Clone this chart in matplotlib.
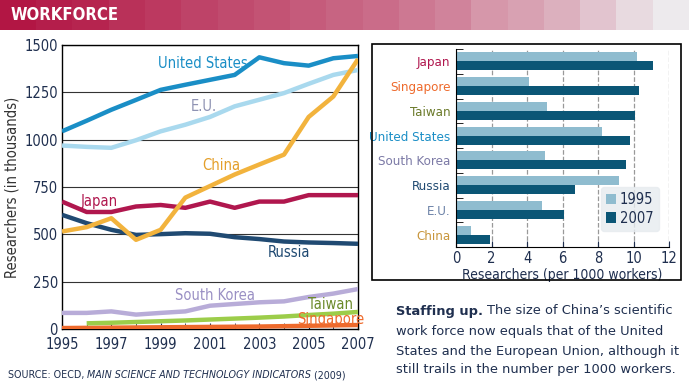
import matplotlib
matplotlib.use('Agg')
import matplotlib.pyplot as plt
import numpy as np
from matplotlib.patches import Rectangle
from matplotlib import font_manager

# pick a narrow font if one is installed
flist = font_manager.fontManager.ttflist
narrow = [f for f in flist
          if ('Narrow' in f.name or 'Condensed' in f.name or f.stretch in ('condensed', 'semi-condensed'))
          and 'CJK' not in f.name and 'Mono' not in f.name and 'Serif' not in f.name]
if narrow:
    NARROW = dict(family=[narrow[0].name, 'DejaVu Sans'], stretch=narrow[0].stretch)
    SC = 1.0
else:
    NARROW = dict(family=['DejaVu Sans'], stretch='normal')
    SC = 0.88
plt.rcParams['font.family'] = NARROW['family']
plt.rcParams['font.stretch'] = NARROW['stretch']

# line chart data (thousands of researchers)
years = list(range(1995, 2008))
us = [1044, 1100, 1158, 1210, 1263, 1290, 1316, 1342, 1435, 1404, 1391, 1430, 1442]
eu = [969, 962, 957, 997, 1044, 1079, 1120, 1176, 1211, 1246, 1295, 1342, 1368]
china = [515, 538, 585, 471, 524, 694, 755, 816, 869, 921, 1120, 1228, 1425]
japan = [673, 618, 618, 647, 655, 640, 673, 640, 673, 673, 707, 707, 707]
russia = [603, 559, 524, 497, 501, 506, 503, 485, 475, 462, 457, 454, 450]
skorea = [85, 85, 93, 76, 85, 93, 123, 132, 141, 146, 169, 187, 211]
taiwan_years = list(range(1996, 2008))
taiwan = [30, 33, 37, 41, 45, 50, 55, 60, 66, 74, 81, 90]
singapore = [5, 6, 7, 8, 9, 10, 11, 12, 13, 15, 17, 19, 21]

# bar chart data (researchers per 1000 workers)
countries = ['Japan', 'Singapore', 'Taiwan', 'United States', 'South Korea', 'Russia', 'E.U.', 'China']
r1995 = [10.2, 4.1, 5.1, 8.2, 5.0, 9.2, 4.85, 0.86]
r2007 = [11.1, 10.3, 10.1, 9.8, 9.6, 6.7, 6.1, 1.9]

W, H = 689, 383
fig = plt.figure(figsize=(W / 100, H / 100), dpi=100)
renderer = fig.canvas.get_renderer()
ink = '#1f2f4f'


def text_run(x, y, pieces, **kw):
    # draw text pieces one after another on a line, x/y in pixels from top-left
    for s, extra in pieces:
        t = fig.text(x / W, 1 - y / H, s, va='center', ha='left', **kw, **extra)
        bb = t.get_window_extent(renderer)
        x = x + bb.width


# header band
hax = fig.add_axes([0, 1 - 30 / H, 1, 30 / H])
steps = np.array([0, 0.08, 0.12, 0.2, 0.25, 0.3, 0.34, 0.38, 0.42, 0.46, 0.5, 0.55, 0.6, 0.68, 0.72, 0.78, 0.86, 0.94, 1.0])
c0 = np.array([0.70, 0.09, 0.27])
c1 = np.array([0.93, 0.92, 0.93])
grad = np.array([[c0 + (c1 - c0) * s ** 1.3 for s in steps]])
hax.imshow(grad, aspect='auto', extent=[0, 1, 0, 1])
hax.text(0.015, 0.5, 'WORKFORCE', color='white', fontsize=12 * SC, fontweight='bold',
         va='center', ha='left')
hax.set_xlim(0, 1)
hax.axis('off')

# left line chart
ax = fig.add_axes([62 / W, 1 - 329 / H, (358 - 62) / W, (329 - 45) / H])
lw = 3.2
ax.plot(years, singapore, color='#ee6a2c', lw=lw, solid_capstyle='butt', zorder=3)
ax.plot(taiwan_years, taiwan, color='#9ccd4a', lw=lw, solid_capstyle='butt', zorder=3)
ax.plot(years, skorea, color='#b8acd8', lw=lw, solid_capstyle='butt', zorder=3)
ax.plot(years, russia, color='#204a72', lw=lw, solid_capstyle='butt', zorder=3)
ax.plot(years, japan, color='#b0174e', lw=lw, solid_capstyle='butt', zorder=3)
ax.plot(years, china, color='#f2b33d', lw=lw, solid_capstyle='butt', zorder=4)
ax.plot(years, eu, color='#a9d9ee', lw=lw, solid_capstyle='butt', zorder=3)
ax.plot(years, us, color='#1a8ec6', lw=lw, solid_capstyle='butt', zorder=3)

ax.set_xlim(1995, 2007)
ax.set_ylim(0, 1500)
ax.set_yticks([0, 250, 500, 750, 1000, 1250, 1500])
ax.set_xticks(range(1995, 2008, 2))
ax.set_xticks(range(1995, 2008), minor=True)
ax.yaxis.grid(True, color='#333333', lw=0.8)
ax.set_axisbelow(True)
ax.tick_params(axis='y', length=0, labelsize=10.5 * SC, colors=ink, pad=3)
ax.tick_params(axis='x', which='both', direction='in', length=4, labelsize=10.5 * SC,
               colors=ink, pad=6)
for s in ax.spines.values():
    s.set_color('black')
    s.set_linewidth(1)
ax.set_ylabel('Researchers (in thousands)', fontsize=10.5 * SC, color='#333333')
ax.yaxis.set_label_coords(-0.142, 0.5)

lab = dict(fontsize=10.5 * SC, ha='center', va='center')
ax.text(2000.7, 1400, 'United States', color='#1a8ec6', **lab)
ax.text(2000.75, 1173, 'E.U.', color='#8f93b3', **lab)
ax.text(2001.45, 864, 'China', color='#e49f2a', **lab)
ax.text(1996.5, 673, 'Japan', color='#b0174e', **lab)
ax.text(2004.2, 404, 'Russia', color='#204a72', **lab)
ax.text(2001.2, 178, 'South Korea', color='#9a90c4', **lab)
ax.text(2005.9, 129, 'Taiwan', color='#6b8a2a', **lab)
ax.text(2005.9, 50, 'Singapore', color='#ee6a2c', **lab)

text_run(8, 375, [('SOURCE: OECD, ', {}),
                  ('MAIN SCIENCE AND TECHNOLOGY INDICATORS', {'style': 'italic'}),
                  (' (2009)', {})],
         fontsize=7.7 * SC, color=ink)

# right box
fig.patches.append(Rectangle((372 / W, 1 - 280 / H), (681 - 372) / W, (280 - 44) / H,
                             transform=fig.transFigure, fill=False, ec='black', lw=1.2))

bx = fig.add_axes([456 / W, 1 - 247 / H, (669 - 456) / W, (247 - 49) / H])
y = np.arange(len(countries))
h = 0.36
bx.barh(y - h / 2, r1995, height=h, color='#8fbccf', label='1995')
bx.barh(y + h / 2, r2007, height=h, color='#0b5676', label='2007')
bx.set_ylim(len(countries) - 0.5, -0.5)
bx.set_xlim(0, 12)
bx.set_xticks(range(0, 13, 2))
bx.set_yticks(y)
bx.set_yticklabels(countries)
bx.set_yticks(np.arange(-0.5, len(countries), 1), minor=True)
bx.tick_params(axis='y', which='major', length=0, labelsize=9.5 * SC, pad=4)
bx.tick_params(axis='y', which='minor', direction='in', length=5)
bx.tick_params(axis='x', direction='in', length=4, labelsize=10.5 * SC, colors=ink, pad=3)
bx.xaxis.grid(True, ls='--', color='#999999', lw=0.9)
bx.set_axisbelow(True)
for side in ['top', 'right']:
    bx.spines[side].set_visible(False)
label_colors = ['#b0174e', '#ee6a2c', '#6b7a2a', '#1a8ec6', '#7c7aa6', '#204a72', '#6d83a8', '#c8963c']
for t, c in zip(bx.get_yticklabels(), label_colors):
    t.set_color(c)
bx.set_xlabel('Researchers (per 1000 workers)', fontsize=10 * SC, color=ink, labelpad=1)
leg = bx.legend(loc='lower right', bbox_to_anchor=(0.985, 0.045), fontsize=10.5 * SC, frameon=True,
                handlelength=0.7, handleheight=0.7, handletextpad=0.25, borderpad=0.35,
                labelspacing=0.25, fancybox=True)
leg.get_frame().set_facecolor('#e6ebef')
leg.get_frame().set_edgecolor('#e6ebef')
for t in leg.get_texts():
    t.set_color(ink)

# caption
cap = dict(fontsize=9.4, color=ink, family=['DejaVu Sans'], stretch='normal')
text_run(396, 311, [('Staffing up. ', {'fontweight': 'bold'}),
                    ("The size of China\u2019s scientific", {})], **cap)
text_run(396, 331, [('work force now equals that of the United', {})], **cap)
text_run(396, 351, [('States and the European Union, although it', {})], **cap)
text_run(396, 370, [('still trails in the number per 1000 workers.', {})], **cap)

fig.savefig('out.png', dpi=100)
